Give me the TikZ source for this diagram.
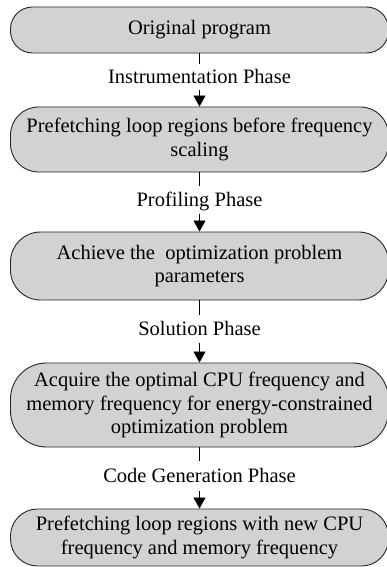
\documentclass[tikz,border=0pt]{standalone}
\usepackage{fontspec}
\setmainfont{Liberation Serif}
\usetikzlibrary{arrows.meta}
\definecolor{boxgray}{RGB}{210,210,210}
\begin{document}
\begin{tikzpicture}[x=1pt,y=1pt,
  box/.style={draw=black!85, line width=0.9pt, fill=boxgray, minimum width=378pt,
    inner sep=0pt, align=center, font=\fontsize{20.5}{23.2}\selectfont},
  lbl/.style={inner sep=0pt, font=\fontsize{20.5}{23}\selectfont, text height=13.5pt, text depth=0pt},
  conn/.style={line width=0.8pt},
  arr/.style={line width=0.8pt, -{Triangle[width=12pt,length=11pt]}}]
\useasboundingbox (0,0) rectangle (387,-567);
\node[box, minimum height=46pt, rounded corners=22pt] (b1) at (199.5,-30) {Original program};
\node[box, minimum height=65pt, rounded corners=28pt] (b2) at (199.5,-139.5) {Prefetching loop regions before frequency\\scaling};
\node[box, minimum height=68pt, rounded corners=30pt] (b3) at (199.5,-266) {Achieve the~ optimization problem\\parameters};
\node[box, minimum height=84pt, rounded corners=36pt] (b4) at (199.5,-405) {Acquire the optimal CPU frequency and\\memory frequency for energy-constrained\\optimization problem};
\node[box, minimum height=57pt, rounded corners=27pt] (b5) at (199.5,-537.5) {Prefetching loop regions with new CPU\\frequency and memory frequency};

\node[lbl, minimum height=25pt] (l1) at (199.5,-77) {Instrumentation Phase};
\node[lbl, minimum height=27pt] (l2) at (199.5,-200) {Profiling Phase};
\node[lbl, minimum height=27pt] (l3) at (199.5,-329) {Solution Phase};
\node[lbl, minimum height=30pt] (l4) at (199.5,-476) {Code Generation Phase};

\draw[conn] (b1) -- (l1);
\draw[arr] (l1) -- (b2);
\draw[conn] (b2) -- (l2);
\draw[arr] (l2) -- (b3);
\draw[conn] (b3) -- (l3);
\draw[arr] (l3) -- (b4);
\draw[conn] (b4) -- (l4);
\draw[arr] (l4) -- (b5);
\end{tikzpicture}
\end{document}
